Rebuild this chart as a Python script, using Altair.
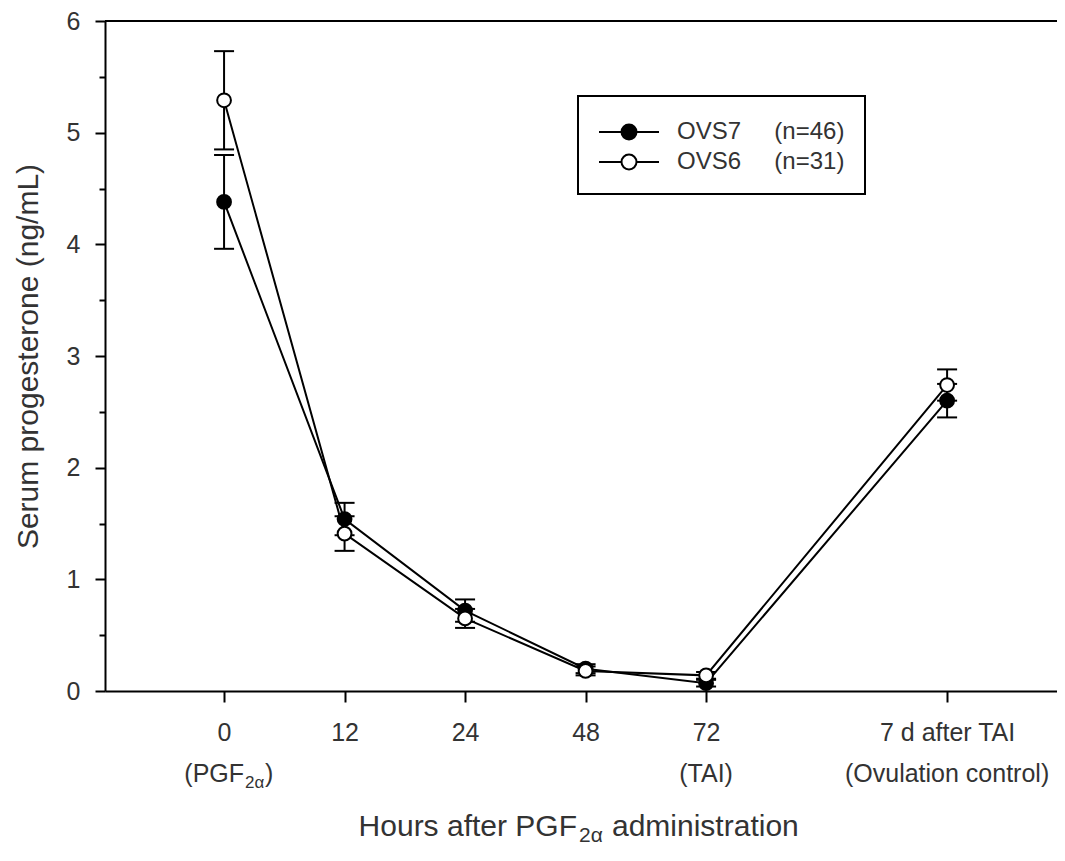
import altair as alt
import pandas as pd

# ---------------- data ----------------
categories = ["0", "12", "24", "48", "72", "7 d after TAI"]
scale_domain = ["0", "12", "24", "48", "72", "gap", "7 d after TAI"]  # "gap" = empty slot
sublabels = ["", "", "", "", "(TAI)", "(Ovulation control)"]
pgf_pieces = ["(PGF", "2\u03b1", ")"]
title_pieces = ["Hours after PGF", "2\u03b1", "administration"]
y_title = "Serum progesterone (ng/mL)"

series_names = ["OVS7", "OVS6"]
series_n = [46, 31]
series_fill = ["black", "white"]

ovs7_mean = [4.38, 1.54, 0.72, 0.20, 0.07, 2.60]
ovs7_sem = [0.42, 0.145, 0.10, 0.04, 0.03, 0.15]
ovs6_mean = [5.29, 1.41, 0.65, 0.18, 0.14, 2.74]
ovs6_sem = [0.44, 0.155, 0.085, 0.04, 0.03, 0.14]

y_tick_values = [0, 0.5, 1, 1.5, 2, 2.5, 3, 3.5, 4, 4.5, 5, 5.5, 6]

# ---------------- tables ----------------
NBSP = "\u00a0"
labels = [f"{nm}{NBSP * 5}(n={n})" for nm, n in zip(series_names, series_n)]
rows = []
for lab, means, sems in [(labels[0], ovs7_mean, ovs7_sem), (labels[1], ovs6_mean, ovs6_sem)]:
    for i, (c, m, s) in enumerate(zip(categories, means, sems)):
        rows.append({"cat": c, "idx": i, "series": lab, "mean": m, "low": m - s, "high": m + s})
df = pd.DataFrame(rows)
sub_df = pd.DataFrame({"cat": categories, "sub": sublabels})

FONT = "Liberation Sans"
TXT = "#333333"
W, H = 952, 670
TOP = 13

x_axis = alt.Axis(
    title=None, values=categories, labelAngle=0, labelFontSize=25, labelFont=FONT,
    labelColor=TXT, labelPadding=18, tickSize=11, tickWidth=2, tickColor="black",
    domainColor="black", domainWidth=2, grid=False, labelOverlap=False, labelLimit=400,
)
y_axis = alt.Axis(
    title=y_title, values=y_tick_values, format="~g",
    labelExpr="datum.value % 1 == 0 ? datum.label : ''",
    tickSize={"condition": {"test": "datum.value % 1 != 0", "value": 6}, "value": 10},
    tickWidth=2, tickColor="black", domainColor="black", domainWidth=2, grid=False,
    labelFontSize=25, labelFont=FONT, labelColor=TXT, labelPadding=15,
    titleFontSize=30, titleFont=FONT, titleFontWeight="normal", titleColor=TXT, titlePadding=23,
)
x_scale = alt.Scale(type="point", domain=scale_domain, padding=0.95, align=0.52)
y_scale = alt.Scale(domain=[0, 6], nice=False, zero=True)


def X():
    return alt.X("cat:N", scale=x_scale, axis=x_axis)


def Y(field):
    return alt.Y(f"{field}:Q", scale=y_scale, axis=y_axis)


base = alt.Chart(df)

lines = base.mark_line(color="black", strokeWidth=2).encode(
    x=X(), y=Y("mean"), detail="series:N", order=alt.Order("idx:Q")
)
err_rule = base.mark_rule(color="black", strokeWidth=2).encode(
    x=X(), y=Y("low"), y2="high:Q"
)
cap_low = base.mark_tick(color="black", size=20, thickness=2, opacity=1).encode(x=X(), y=Y("low"))
cap_high = base.mark_tick(color="black", size=20, thickness=2, opacity=1).encode(x=X(), y=Y("high"))

legend_path = "M-2,0L-0.5,0M0.5,0L2,0M-0.5,0A0.5,0.5,0,1,1,0.5,0A0.5,0.5,0,1,1,-0.5,0Z"
points = base.mark_circle(size=190, stroke="black", strokeWidth=2, opacity=1).encode(
    x=X(), y=Y("mean"),
    fill=alt.Fill(
        "series:N",
        scale=alt.Scale(domain=labels, range=series_fill),
        legend=alt.Legend(
            title=None, orient="none", legendX=473, legendY=96 - 8 - TOP, padding=20,
            strokeColor="black", fillColor="white",
            symbolType=legend_path, symbolSize=900, symbolStrokeColor="black",
            symbolStrokeWidth=2, symbolOffset=15, labelOffset=32,
            labelFontSize=24, labelFont=FONT, labelColor=TXT, labelLimit=400,
            rowPadding=2,
        ),
    ),
)

sub_text = alt.Chart(sub_df).mark_text(
    fontSize=25, font=FONT, color=TXT, align="center", baseline="alphabetic"
).encode(x=X(), y=alt.value(H + 91), text="sub:N")

one = pd.DataFrame({"cat": [categories[0]]})
pgf1 = alt.Chart(one).mark_text(
    text=pgf_pieces[0], fontSize=25, font=FONT, color=TXT, align="right", baseline="alphabetic", dx=20
).encode(x=X(), y=alt.value(H + 91))
pgf2 = alt.Chart(one).mark_text(
    text=pgf_pieces[1], fontSize=17, font=FONT, color=TXT, align="left", baseline="alphabetic", dx=21
).encode(x=X(), y=alt.value(H + 97))
pgf3 = alt.Chart(one).mark_text(
    text=pgf_pieces[2], fontSize=25, font=FONT, color=TXT, align="left", baseline="alphabetic", dx=41
).encode(x=X(), y=alt.value(H + 91))

t1 = alt.Chart(one).mark_text(
    text=title_pieces[0], fontSize=30, font=FONT, color=TXT, align="right", baseline="alphabetic"
).encode(x=alt.value(472), y=alt.value(H + 145))
t2 = alt.Chart(one).mark_text(
    text=title_pieces[1], fontSize=21, font=FONT, color=TXT, align="left", baseline="alphabetic"
).encode(x=alt.value(474), y=alt.value(H + 151))
t3 = alt.Chart(one).mark_text(
    text=title_pieces[2], fontSize=30, font=FONT, color=TXT, align="left", baseline="alphabetic"
).encode(x=alt.value(507), y=alt.value(H + 145))

top_line = alt.Chart(one).mark_rule(color="black", strokeWidth=2).encode(
    x=alt.value(0), x2=alt.value(W), y=alt.value(0)
)

chart = alt.layer(
    top_line, lines, err_rule, cap_low, cap_high, points, sub_text, pgf1, pgf2, pgf3, t1, t2, t3
).properties(
    width=W, height=H,
    autosize=alt.AutoSizeParams(type="none"),
    padding={"left": 97, "top": TOP, "right": 0, "bottom": 840 - TOP - H},
).configure_view(stroke=None).configure_legend(strokeWidth=2)

chart.save("out.html", embed_options={"renderer": "svg", "actions": False})
